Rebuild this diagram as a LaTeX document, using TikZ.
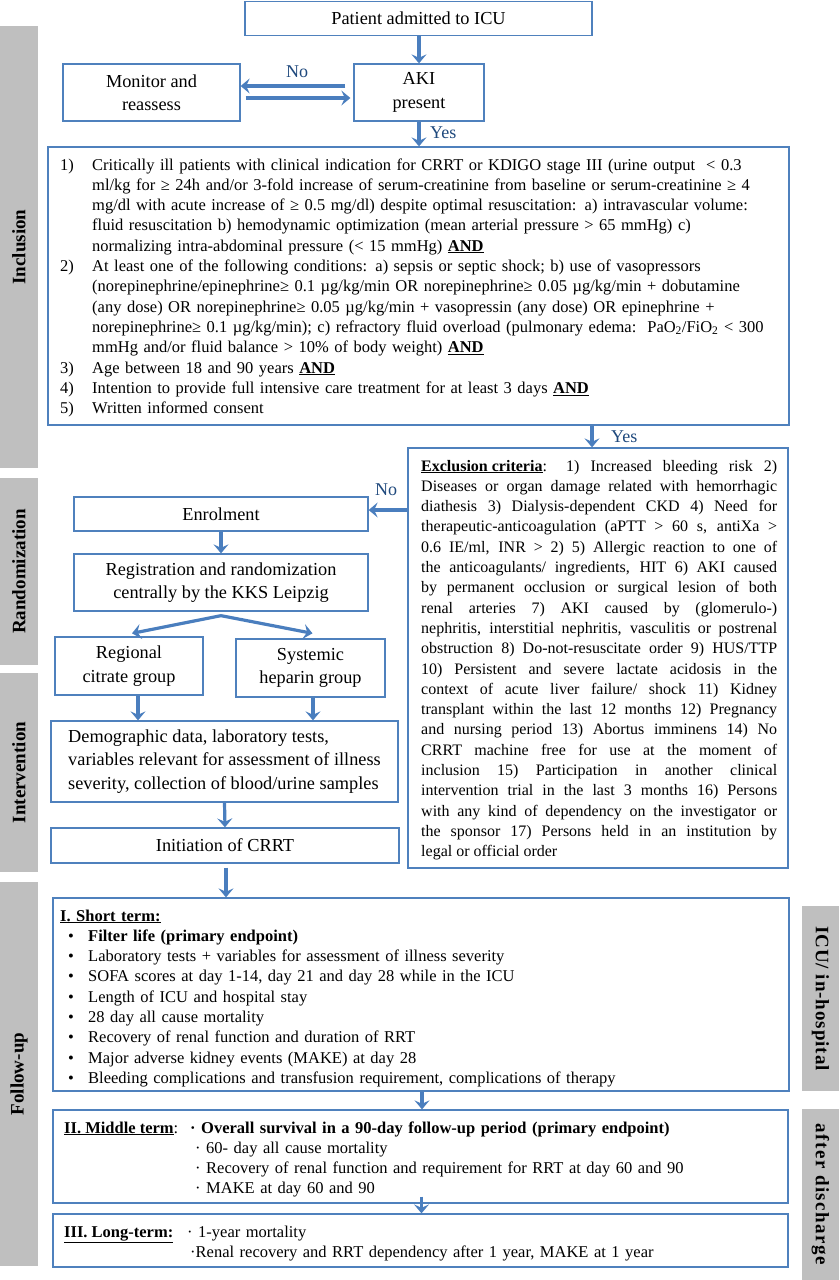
\documentclass[tikz,border=0pt]{standalone}
\usepackage{fontspec}
\setmainfont{Liberation Serif}
\newfontfamily\barfont{Liberation Serif}
\newfontfamily\icufont{Liberation Serif}[LetterSpace=5]
\newfontfamily\disfont{Liberation Serif}[LetterSpace=8]
\usetikzlibrary{arrows.meta}
\definecolor{boxblue}{RGB}{79,129,189}
\definecolor{arrblue}{RGB}{74,126,190}
\definecolor{lblblue}{RGB}{31,73,125}
\definecolor{bargrey}{RGB}{191,191,191}
\tikzset{
  box/.style={draw=boxblue, line width=1.3pt, fill=white, inner sep=0pt},
  big/.style={font=\fontsize{18.3}{23.5}\selectfont, align=center},
  small/.style={font=\fontsize{16.5}{20.3}\selectfont, inner sep=0pt, anchor=base west},
  bar/.style={fill=bargrey, inner sep=0pt, font=\barfont\bfseries\fontsize{19}{22}\selectfont},
  arr/.style={draw=arrblue, line width=3.2pt, -{Stealth[length=9pt,width=15pt,inset=3.5pt]}},
  lbl/.style={text=lblblue, font=\fontsize{18}{20}\selectfont, inner sep=0pt}
}
\newcommand{\inum}[1]{\noindent\llap{\makebox[32pt][l]{#1}}}
\begin{document}
\begin{tikzpicture}[x=1pt,y=-1pt]
\useasboundingbox[fill=white] (0,0) rectangle (839,1280);

% side bars
\node[bar, rotate=90, minimum width=442pt, minimum height=38pt] (incbar) at (19,247) {Inclusion};
\node[bar, rotate=90, minimum width=187pt, minimum height=38pt] (randbar) at (19,571.5) {Randomization};
\node[bar, rotate=90, minimum width=199pt, minimum height=38pt] (intbar) at (19,772.5) {Intervention};
\node[bar, rotate=90, minimum width=384pt, minimum height=38pt] (fubar) at (19,1074) {Follow-up};
\node[bar, rotate=-90, minimum width=185pt, minimum height=37pt] (icubar) at (820.5,998.5) {\icufont\bfseries ICU/ in-hospital};
\node[bar, rotate=-90, minimum width=171pt, minimum height=37pt] (disbar) at (820.5,1194.5) {\disfont\bfseries after discharge};

% main boxes
\node[box, big, minimum width=347pt, minimum height=34pt] (pat) at (418.5,18.5) {Patient admitted to ICU};
\node[box, big, minimum width=177pt, minimum height=57pt] (mon) at (151.5,92.5) {Monitor and\\reassess};
\node[box, big, minimum width=130pt, minimum height=57pt] (aki) at (419,92.5) {AKI\\present};
\node[box, minimum width=741pt, minimum height=278pt] (incl) at (418.5,286) {};
\node[box, minimum width=380pt, minimum height=420pt] (excl) at (598,658) {};
\node[box, big, minimum width=294pt, minimum height=34pt] (enr) at (221,514) {Enrolment};
\node[box, big, minimum width=294pt, minimum height=57pt] (reg) at (221,582.5) {Registration and randomization\\centrally by the KKS Leipzig};
\node[box, big, minimum width=148pt, minimum height=58pt] (cit) at (129,666) {Regional\\citrate group};
\node[box, big, minimum width=149pt, minimum height=58pt] (hep) at (310.5,668) {Systemic\\heparin group};
\node[box, big, align=left, minimum width=347pt, minimum height=81pt] (demo) at (224.5,761.5) {Demographic data, laboratory tests,\\variables relevant for assessment of illness\\severity, collection of blood/urine samples};
\node[box, big, minimum width=348pt, minimum height=35pt] (init) at (225,845.5) {Initiation of CRRT};
\node[box, minimum width=736pt, minimum height=193pt] (st) at (421,994.5) {};
\node[box, minimum width=735pt, minimum height=93pt] (mt) at (420.5,1156.5) {};
\node[box, minimum width=735pt, minimum height=53pt] (lt) at (420.5,1240.5) {};

% inclusion text
\node[small, text width=700pt, align=left] (incltext) at (92,170) {%
\inum{1)}Critically ill patients with clinical indication for CRRT or KDIGO stage III (urine output~~< 0.3\\
ml/kg for ≥ 24h and/or 3-fold increase of serum-creatinine from baseline or serum-creatinine ≥ 4\\
mg/dl with acute increase of ≥ 0.5 mg/dl) despite optimal resuscitation: a) intravascular volume:\\
fluid resuscitation b) hemodynamic optimization (mean arterial pressure > 65 mmHg) c)\\
normalizing intra-abdominal pressure (< 15 mmHg) \underline{\textbf{AND}}\\
\inum{2)}At least one of the following conditions: a) sepsis or septic shock; b) use of vasopressors\\
(norepinephrine/epinephrine≥ 0.1 µg/kg/min OR norepinephrine≥ 0.05 µg/kg/min + dobutamine\\
(any dose) OR norepinephrine≥ 0.05 µg/kg/min + vasopressin (any dose) OR epinephrine +\\
norepinephrine≥ 0.1 µg/kg/min); c) refractory fluid overload (pulmonary edema:~~PaO\textsubscript{2}/FiO\textsubscript{2} < 300\\
mmHg and/or fluid balance > 10\% of body weight) \underline{\textbf{AND}}\\
\inum{3)}Age between 18 and 90 years \underline{\textbf{AND}}\\
\inum{4)}Intention to provide full intensive care treatment for at least 3 days \underline{\textbf{AND}}\\
\inum{5)}Written informed consent};

% exclusion text
\node[small, font=\fontsize{16}{20.3}\selectfont, text width=356pt, align=justify] (excltext) at (421,471) {%
\noindent\tolerance=10000\hyphenpenalty=10000
\underline{\textbf{Exclusion criteria}}: 1) Increased bleeding risk 2)\linebreak
Diseases or organ damage related with hemorrhagic\linebreak
diathesis 3) Dialysis-dependent CKD 4) Need for\linebreak
therapeutic-anticoagulation (aPTT > 60 s, antiXa >\linebreak
0.6 IE/ml, INR > 2) 5) Allergic reaction to one of\linebreak
the anticoagulants/ ingredients, HIT 6) AKI caused\linebreak
by permanent occlusion or surgical lesion of both\linebreak
renal arteries 7) AKI caused by (glomerulo-)\linebreak
nephritis, interstitial nephritis, vasculitis or postrenal\linebreak
obstruction 8) Do-not-resuscitate order 9) HUS/TTP\linebreak
10) Persistent and severe lactate acidosis in the\linebreak
context of acute liver failure/ shock 11) Kidney\linebreak
transplant within the last 12 months 12) Pregnancy\linebreak
and nursing period 13) Abortus imminens 14) No\linebreak
CRRT machine free for use at the moment of\linebreak
inclusion 15) Participation in another clinical\linebreak
intervention trial in the last 3 months 16) Persons\linebreak
with any kind of dependency on the investigator or\linebreak
the sponsor 17) Persons held in an institution by\linebreak
legal or official order};

% short term text
\node[small, text width=720pt, align=left] (sttext) at (60,921) {%
\noindent\underline{\textbf{I. Short term:}}\\
\makebox[28pt][l]{\hspace{8pt}•}\textbf{Filter life (primary endpoint)}\\
\makebox[28pt][l]{\hspace{8pt}•}Laboratory tests + variables for assessment of illness severity\\
\makebox[28pt][l]{\hspace{8pt}•}SOFA scores at day 1-14, day 21 and day 28 while in the ICU\\
\makebox[28pt][l]{\hspace{8pt}•}Length of ICU and hospital stay\\
\makebox[28pt][l]{\hspace{8pt}•}28 day all cause mortality\\
\makebox[28pt][l]{\hspace{8pt}•}Recovery of renal function and duration of RRT\\
\makebox[28pt][l]{\hspace{8pt}•}Major adverse kidney events (MAKE) at day 28\\
\makebox[28pt][l]{\hspace{8pt}•}Bleeding complications and transfusion requirement, complications of therapy};

% middle term text
\node[small] (mtlabel) at (64,1133) {\underline{\textbf{II. Middle term}}:};
\node[small, text width=580pt, align=left] (mttext) at (190,1133) {%
\noindent\textbf{· Overall survival in a 90-day follow-up period (primary endpoint)}\\
\hspace*{5pt}· 60- day all cause mortality\\
\hspace*{5pt}· Recovery of renal function and requirement for RRT at day 60 and 90\\
\hspace*{5pt}· MAKE at day 60 and 90};

% long term text
\node[small] (ltlabel) at (64,1237) {\underline{\textbf{III. Long-term:}}};
\node[small, text width=580pt, align=left] (lttext) at (187,1237) {%
\noindent· 1-year mortality\\
\hspace*{3pt}·Renal recovery and RRT dependency after 1 year, MAKE at 1 year};

% connectors
\coordinate (lvl) at (0,510);
\draw[arr] (pat.south -| aki.north) -- (aki.north);
\draw[arr] ([xshift=-8pt,yshift=6.5pt]aki.west) -- ([yshift=6.5pt]mon.east);
\draw[arr] ([xshift=5pt,yshift=-5.5pt]mon.east) -- ([xshift=-3pt,yshift=-5.5pt]aki.west);
\node[lbl] (no1) at (297,72) {No};
\draw[arr] (aki.south) -- (aki.south |- incl.north);
\node[lbl, anchor=west] (yes1) at (430,133) {Yes};
\draw[arr] ([xshift=-6pt]excl.north |- incl.south) -- ([xshift=-6pt]excl.north);
\node[lbl, anchor=west] (yes2) at (611,437) {Yes};
\draw[arr] (excl.west |- lvl) -- (enr.east |- lvl);
\node[lbl] (no2) at (386,490) {No};
\draw[arr] (enr.south) -- (reg.north);
\draw[arr] ([yshift=-4pt]reg.south) -- ([xshift=3pt,yshift=3pt]cit.north);
\draw[arr] ([yshift=-4pt]reg.south) -- ([xshift=2pt,yshift=5pt]hep.north);
\draw[arr] ([xshift=9pt]cit.south) -- ([xshift=9pt]cit.south |- demo.north);
\draw[arr] ([xshift=2.5pt]hep.south) -- ([xshift=2.5pt]hep.south |- demo.north);
\draw[arr] (demo.south) -- (init.north);
\draw[arr] ([xshift=1pt,yshift=-4pt]init.south) -- ([xshift=1pt]init.south |- st.north);
\draw[arr] ([xshift=1pt]st.south) -- ([xshift=1pt]st.south |- mt.north);
\draw[arr] ([xshift=1pt,yshift=7pt]mt.south) -- ([xshift=1pt]mt.south |- lt.north);
\end{tikzpicture}
\end{document}
